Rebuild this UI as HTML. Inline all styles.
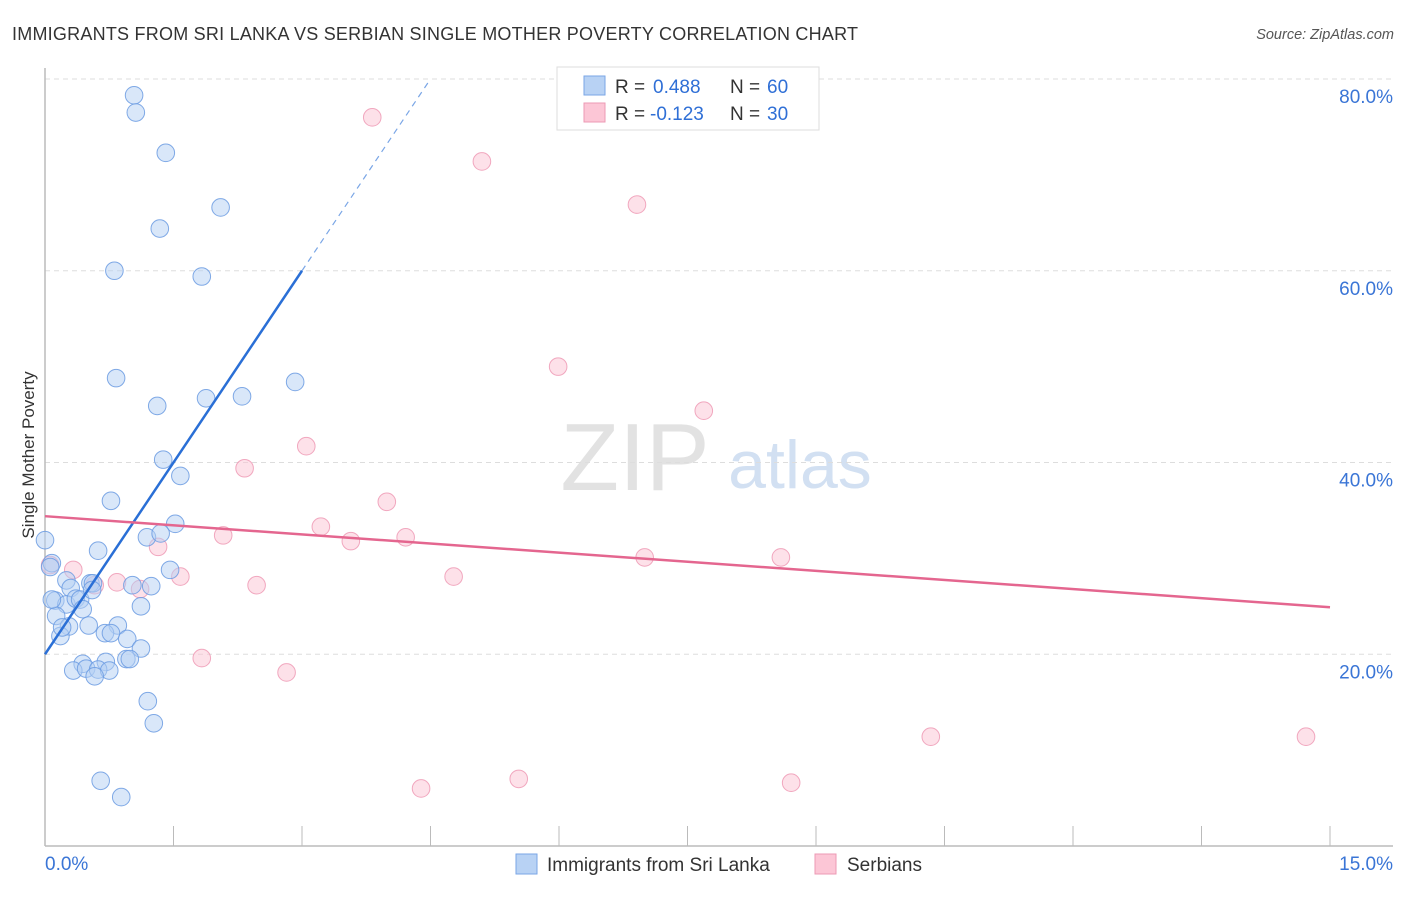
<!DOCTYPE html>
<html><head><meta charset="utf-8"><style>
body{margin:0;background:#fff;font-family:"Liberation Sans",sans-serif;}
svg text{font-family:"Liberation Sans",sans-serif;}
</style></head><body>
<svg id="chart" width="1406" height="892" xmlns="http://www.w3.org/2000/svg">
<text x="12" y="40" font-size="18" textLength="846" fill="#333">IMMIGRANTS FROM SRI LANKA VS SERBIAN SINGLE MOTHER POVERTY CORRELATION CHART</text>
<text x="1394" y="39" font-size="14.5" fill="#555" text-anchor="end" font-style="italic">Source: ZipAtlas.com</text>
<text transform="translate(34,455) rotate(-90)" font-size="17" fill="#333" text-anchor="middle">Single Mother Poverty</text>
<g>
<text x="635" y="490" font-size="96" fill="#e2e2e2" font-family="Liberation Serif" text-anchor="middle">ZIP</text>
<text x="800" y="488" font-size="68" fill="#d2e0f2" text-anchor="middle">atlas</text>
</g>
<g id="grid"></g>
<g id="axes"></g>
<g id="marks"></g>
<g>
<rect x="557" y="67" width="262" height="63" fill="#fff" stroke="#ddd"/>
<rect x="584" y="76" width="21" height="19" fill="#b8d2f4" stroke="#7aa6e6"/>
<rect x="584" y="103" width="21" height="19" fill="#fcc6d6" stroke="#ec9ab4"/>
<text x="615" y="93" font-size="19" fill="#333">R = </text><text x="653" y="93" font-size="19" fill="#2f6fd6">0.488</text>
<text x="730" y="93" font-size="19" fill="#333">N = </text><text x="767" y="93" font-size="19" fill="#2f6fd6">60</text>
<text x="615" y="120" font-size="19" fill="#333">R = </text><text x="650" y="120" font-size="19" fill="#2f6fd6">-0.123</text>
<text x="730" y="120" font-size="19" fill="#333">N = </text><text x="767" y="120" font-size="19" fill="#2f6fd6">30</text>
</g>
<g>
<rect x="516" y="854" width="21" height="20" fill="#b8d2f4" stroke="#7aa6e6"/>
<text x="547" y="871" font-size="19" fill="#333">Immigrants from Sri Lanka</text>
<rect x="815" y="854" width="21" height="20" fill="#fcc6d6" stroke="#ec9ab4"/>
<text x="847" y="871" font-size="19" fill="#333">Serbians</text>
</g>
</svg>
<script>
const xTickLabels=["0.0%","15.0%"];
const yTicks=[20,40,60,80];
const yTickLabels=["20.0%","40.0%","60.0%","80.0%"];
const blueX=[1.04,1.06,1.41,1.34,2.05,0.81,1.83,0.83,1.31,1.88,2.30,2.92,1.38,1.58,0.77,1.52,1.19,1.35,0.62,0.0,0.08,0.06,1.46,0.25,0.53,0.56,1.02,1.24,0.30,0.12,0.25,0.36,0.41,0.44,1.12,0.13,0.28,0.51,0.85,0.70,0.77,0.18,0.96,1.12,0.95,0.99,0.44,0.71,0.33,0.48,0.62,0.75,0.58,1.20,1.27,0.65,0.89,0.55,0.08,0.20];
const blueY=[78.3,76.5,72.3,64.4,66.6,60.0,59.4,48.8,45.9,46.7,46.9,48.4,40.3,38.6,36.0,33.6,32.2,32.6,30.8,31.9,29.5,29.1,28.8,27.7,27.4,27.4,27.2,27.1,26.9,25.6,25.2,25.8,25.7,24.7,25.0,24.0,22.9,23.0,23.0,22.2,22.2,21.9,21.6,20.6,19.5,19.5,19.0,19.2,18.3,18.5,18.4,18.3,17.7,15.1,12.8,6.8,5.1,26.7,25.7,22.8];
const pinkX=[3.82,5.10,6.91,5.99,7.69,3.05,2.33,3.99,3.22,3.57,4.21,2.08,1.32,7.00,8.59,1.58,4.77,2.47,1.11,0.84,0.58,0.33,0.06,1.83,2.82,10.34,14.72,5.53,4.39,8.71];
const pinkY=[76.0,71.4,66.9,50.0,45.4,41.7,39.4,35.9,33.3,31.8,32.2,32.4,31.2,30.1,30.1,28.1,28.1,27.2,26.8,27.5,27.2,28.8,29.3,19.6,18.1,11.4,11.4,7.0,6.0,6.6];
const blueLine=[[0,20.0],[3.0,60.0],[4.5,80.0]];
const pinkLine=[[0,34.4],[15,24.9]];
const NS="http://www.w3.org/2000/svg";
const X=v=>45+v/15*1285, Y=v=>846-v/20*191.75;
function mk(t,a,p){const e=document.createElementNS(NS,t);for(const k in a)e.setAttribute(k,a[k]);p.appendChild(e);return e;}
const grid=document.getElementById('grid'),axes=document.getElementById('axes'),marks=document.getElementById('marks');
yTicks.forEach((t,i)=>{
 const l=mk('line',{x1:45,x2:1393,y1:Y(t),y2:Y(t),stroke:'#ddd','stroke-dasharray':'5,4'},grid);
 
 
 const tx=mk('text',{x:1393,y:Y(t)+24,'font-size':19,fill:'#3a75d6','text-anchor':'end'},axes);tx.textContent=yTickLabels[i];
 
 
});
const ax=mk('line',{x1:45,x2:1393,y1:846,y2:846,stroke:'#bbb','stroke-width':1.5},axes);


const ay=mk('line',{x1:45,x2:45,y1:68,y2:846,stroke:'#bbb','stroke-width':1.5},axes);


for(let i=1;i<=10;i++){const t=mk('line',{x1:X(i*1.5),x2:X(i*1.5),y1:826,y2:846,stroke:'#bbb'},axes);
 
 }
[[0,'start',45],[15,'end',1393]].forEach((d,i)=>{const t=mk('text',{x:d[2],y:870,'font-size':19,fill:'#3a75d6','text-anchor':d[1]},axes);t.textContent=xTickLabels[i];
 
 });
function pts(xs,ys,fill,stroke,name){xs.forEach((x,i)=>{const c=mk('circle',{cx:X(x),cy:Y(ys[i]),r:8.8,fill:fill,'fill-opacity':0.5,stroke:stroke,'stroke-width':1,'stroke-opacity':0.85},marks);
 
 });}
pts(pinkX,pinkY,'#fbc3d3','#ee9ab5','point-serbians');
pts(blueX,blueY,'#b3cff4','#6b9be2','point-sri-lanka');
const bl=mk('line',{x1:X(blueLine[0][0]),y1:Y(blueLine[0][1]),x2:X(blueLine[1][0]),y2:Y(blueLine[1][1]),stroke:'#2a6fd6','stroke-width':2.5},marks);


const bd=mk('line',{x1:X(blueLine[1][0]),y1:Y(blueLine[1][1]),x2:X(blueLine[2][0]),y2:Y(blueLine[2][1]),stroke:'#7aa6e6','stroke-width':1.2,'stroke-dasharray':'6,5'},marks);


const pl=mk('line',{x1:X(pinkLine[0][0]),y1:Y(pinkLine[0][1]),x2:X(pinkLine[1][0]),y2:Y(pinkLine[1][1]),stroke:'#e4668f','stroke-width':2.5},marks);


</script>
</body></html>
